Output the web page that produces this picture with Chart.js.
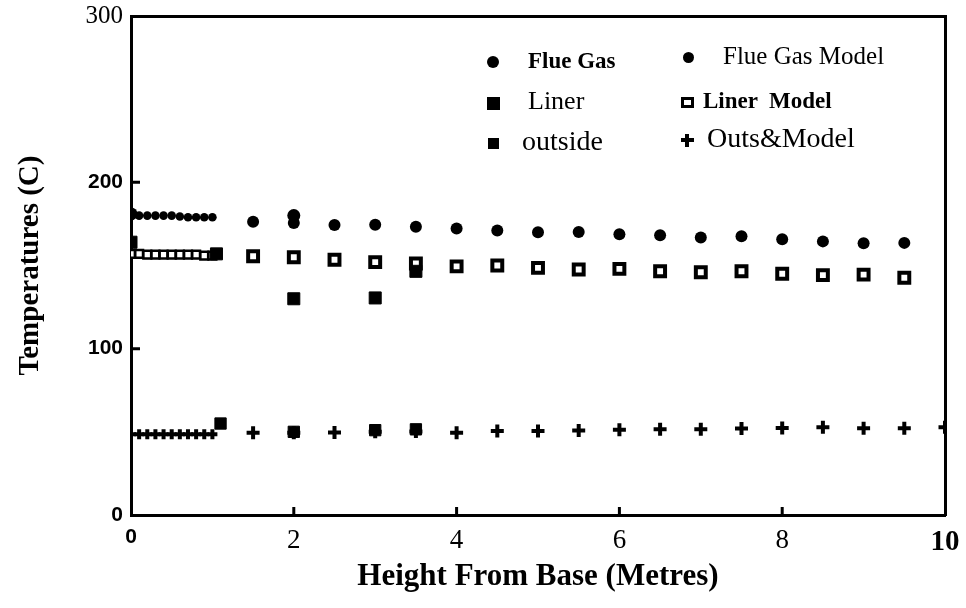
<!DOCTYPE html>
<html>
<head>
<meta charset="utf-8">
<script src="https://cdn.jsdelivr.net/npm/chart.js@4.4.0/dist/chart.umd.min.js"></script>
<style>
  html, body { margin: 0; padding: 0; background: #fff; }
  #wrap { position: relative; width: 966px; height: 608px; }
  #legend { position: absolute; left: 0; top: 0; }
  .txt { position: absolute; font-family: "Liberation Serif", "Times New Roman", serif; color: #000; white-space: pre; }
  .sym { position: absolute; box-sizing: border-box; }
</style>
</head>
<body>
<div id="wrap">
  <canvas id="myChart" width="966" height="608"></canvas>
  <div id="legend"></div>
</div>
<script>
// heights along the chimney (m)
var modelHeights = [0, 0.1, 0.2, 0.3, 0.4, 0.5, 0.6, 0.7, 0.8, 0.9, 1.0, 1.5, 2, 2.5, 3, 3.5, 4, 4.5, 5, 5.5, 6, 6.5, 7, 7.5, 8, 8.5, 9, 9.5];
var outsModelHeights = [0, 0.1, 0.2, 0.3, 0.4, 0.5, 0.6, 0.7, 0.8, 0.9, 1.0, 1.5, 2, 2.5, 3, 3.5, 4, 4.5, 5, 5.5, 6, 6.5, 7, 7.5, 8, 8.5, 9, 9.5, 10];

// model temperatures (C)
var flueGasModel = [180, 180, 180, 180, 180, 180, 179.5, 179, 179, 179, 179, 176.3, 175.5, 174.3, 174.5, 173.3, 172.2, 171, 170, 170.2, 168.8, 168.2, 166.8, 167.6, 165.8, 164.5, 163.4, 163.6];
var linerModel = [157, 157, 156.5, 156.5, 156.5, 156.5, 156.5, 156.5, 156.5, 156, 156, 155.6, 155, 153.5, 152, 151.2, 149.5, 150, 148.6, 147.6, 148, 146.5, 145.9, 146.5, 145, 144.2, 144.5, 142.6];
var outsModel = [48.5, 48.5, 48.5, 48.5, 48.5, 48.5, 48.5, 48.5, 48.5, 48.5, 48.5, 49.4, 49.5, 49.6, 50, 50.2, 49.5, 50.5, 50.5, 50.8, 51.2, 51.6, 51.6, 52, 52.3, 52.8, 52.2, 52.2, 52.8];

// measured temperatures (C)
var flueGasHeights = [0, 2];
var flueGas = [181, 180];
var linerHeights = [0, 1.05, 2, 3, 3.5];
var liner = [164, 157, 130, 130.5, 146.5];
var outsideHeights = [1.1, 2, 3, 3.5];
var outside = [55, 50, 51, 51.5];

// axis ticks
var xTicks = [0, 2, 4, 6, 8, 10];
var yTicks = [0, 100, 200, 300];

var serif = '"Liberation Serif", "Times New Roman", serif';
var sans = '"Liberation Sans", Arial, sans-serif';

function toPoints(xs, ys) {
  return xs.map(function (x, i) { return {x: x, y: ys[i]}; });
}

// smaller marks where the model points are packed close together
function denseSize(small, big) {
  return function (c) { return c.raw && c.raw.x <= 1.0 ? small : big; };
}

var datasets = [
  {label: 'Flue Gas', data: toPoints(flueGasHeights, flueGas), pointStyle: 'circle',
    pointRadius: 6.5, backgroundColor: '#000', borderColor: '#000', borderWidth: 0},
  {label: 'Liner', data: toPoints(linerHeights, liner), pointStyle: 'rect',
    pointRadius: 8.5, backgroundColor: '#000', borderColor: '#000', borderWidth: 1},
  {label: 'outside', data: toPoints(outsideHeights, outside), pointStyle: 'rect',
    pointRadius: 8, backgroundColor: '#000', borderColor: '#000', borderWidth: 1},
  {label: 'Flue Gas Model', data: toPoints(modelHeights, flueGasModel), pointStyle: 'circle',
    pointRadius: denseSize(4.3, 6), backgroundColor: '#000', borderColor: '#000', borderWidth: 0},
  {label: 'Liner Model', data: toPoints(modelHeights, linerModel), pointStyle: 'rect',
    pointRadius: denseSize(5.5, 7), backgroundColor: '#fff', borderColor: '#000', borderWidth: denseSize(2.5, 4)},
  {label: 'Outs&Model', data: toPoints(outsModelHeights, outsModel), pointStyle: 'cross',
    pointRadius: denseSize(5, 6.5), backgroundColor: '#000', borderColor: '#000', borderWidth: 4}
];

function xTickFont(c) {
  var v = c.tick ? c.tick.value : null;
  if (v === 0) return {family: sans, size: 21, weight: 'bold'};
  if (v === 10) return {family: serif, size: 29, weight: 'bold'};
  return {family: serif, size: 27};
}

function yTickFont(c) {
  var v = c.tick ? c.tick.value : null;
  if (v === 300) return {family: serif, size: 25};
  return {family: sans, size: 21, weight: 'bold'};
}

var frame = {display: true, color: '#000', width: 3};

// short tick marks drawn inside the frame, as in the scanned figure
var innerTicks = {
  id: 'innerTicks',
  afterDatasetsDraw: function (chart) {
    var c = chart.ctx, area = chart.chartArea;
    var xs = chart.scales.x, ys = chart.scales.y;
    c.save();
    c.strokeStyle = '#000';
    c.lineWidth = 3;
    c.beginPath();
    yTicks.forEach(function (v) {
      if (v === 0 || v === 300) return;
      var py = ys.getPixelForValue(v);
      c.moveTo(area.left, py);
      c.lineTo(area.left + 9, py);
    });
    xTicks.forEach(function (v) {
      if (v === 0 || v === 10) return;
      var px = xs.getPixelForValue(v);
      c.moveTo(px, area.bottom);
      c.lineTo(px, area.bottom - 8);
    });
    c.stroke();
    c.restore();
  }
};

var ctx = document.getElementById('myChart').getContext('2d');
var chart = new Chart(ctx, {
  type: 'scatter',
  data: {datasets: datasets},
  plugins: [innerTicks],
  options: {
    responsive: false,
    animation: false,
    layout: {padding: {top: 16, right: 21, left: 0, bottom: 0}},
    plugins: {legend: {display: false}, tooltip: {enabled: false}},
    scales: {
      x: {
        type: 'linear', position: 'bottom', min: 0, max: 10,
        afterBuildTicks: function (s) { s.ticks = xTicks.map(function (v) { return {value: v}; }); },
        ticks: {color: '#000', padding: 10, font: xTickFont, maxRotation: 0},
        grid: {display: false, drawTicks: false},
        border: frame,
        title: {display: true, text: 'Height From Base (Metres)', color: '#000',
          font: {family: serif, size: 31, weight: 'bold'}, padding: {top: 0, bottom: 12}},
        afterFit: function (s) { s.height = 93; s.paddingLeft = 0; s.paddingRight = 0; }
      },
      y: {
        type: 'linear', position: 'left', min: 0, max: 300,
        afterBuildTicks: function (s) { s.ticks = yTicks.map(function (v) { return {value: v}; }); },
        ticks: {color: '#000', padding: 8, font: yTickFont},
        grid: {display: false, drawTicks: false},
        border: frame,
        title: {display: true, text: 'Temperatures (C)', color: '#000',
          font: {family: serif, size: 29, weight: 'bold'}, padding: {top: 13, bottom: 0}},
        afterFit: function (s) { s.width = 131; s.paddingTop = 0; s.paddingBottom = 0; }
      },
      x2: {
        type: 'linear', position: 'top', min: 0, max: 10,
        ticks: {display: false}, grid: {display: false, drawTicks: false}, border: frame,
        afterFit: function (s) { s.height = 0; }
      },
      y2: {
        type: 'linear', position: 'right', min: 0, max: 300,
        ticks: {display: false}, grid: {display: false, drawTicks: false}, border: frame,
        afterFit: function (s) { s.width = 0; }
      }
    }
  }
});

// legend inside the plot, two columns like the original
var legendLayout = [
  {label: 'Flue Gas', sym: 'dot', sx: 493, sy: 62, size: 12, tx: 528, ty: 62, font: 23, bold: true},
  {label: 'Flue Gas Model', sym: 'dot', sx: 688, sy: 57, size: 11, tx: 723, ty: 57, font: 25, bold: false},
  {label: 'Liner', sym: 'box', sx: 493, sy: 103, size: 13, tx: 528, ty: 103, font: 26, bold: false},
  {label: 'Liner Model', text: 'Liner  Model', sym: 'hollow', sx: 687, sy: 102, size: 13, tx: 703, ty: 102, font: 23, bold: true},
  {label: 'outside', sym: 'box', sx: 493, sy: 143, size: 11, tx: 522, ty: 143, font: 28, bold: false},
  {label: 'Outs&Model', sym: 'plus', sx: 687, sy: 140, size: 13, tx: 707, ty: 140, font: 28, bold: false}
];

function makeLegend() {
  var box = document.getElementById('legend');
  var html = '';
  legendLayout.forEach(function (item) {
    var h = item.size / 2;
    if (item.sym === 'dot') {
      html += '<div class="sym" style="left:' + (item.sx - h) + 'px;top:' + (item.sy - h) + 'px;width:' + item.size + 'px;height:' + item.size + 'px;border-radius:50%;background:#000"></div>';
    } else if (item.sym === 'box') {
      html += '<div class="sym" style="left:' + (item.sx - h) + 'px;top:' + (item.sy - h) + 'px;width:' + item.size + 'px;height:' + item.size + 'px;background:#000"></div>';
    } else if (item.sym === 'hollow') {
      html += '<div class="sym" style="left:' + (item.sx - h) + 'px;top:' + (item.sy - h + 1) + 'px;width:' + item.size + 'px;height:' + (item.size - 2) + 'px;border:3px solid #000;background:#fff"></div>';
    } else if (item.sym === 'plus') {
      html += '<div class="sym" style="left:' + (item.sx - h) + 'px;top:' + (item.sy - 2) + 'px;width:' + item.size + 'px;height:4px;background:#000"></div>';
      html += '<div class="sym" style="left:' + (item.sx - 2) + 'px;top:' + (item.sy - h) + 'px;width:4px;height:' + item.size + 'px;background:#000"></div>';
    }
    html += '<div class="txt" style="left:' + item.tx + 'px;top:' + (item.ty - item.font / 2 - 2) + 'px;font-size:' + item.font + 'px;line-height:' + item.font + 'px;font-weight:' + (item.bold ? 'bold' : 'normal') + '">' + (item.text || item.label).replace('&', '&amp;') + '</div>';
  });
  box.innerHTML = html;
}
makeLegend();
</script>
</body>
</html>
